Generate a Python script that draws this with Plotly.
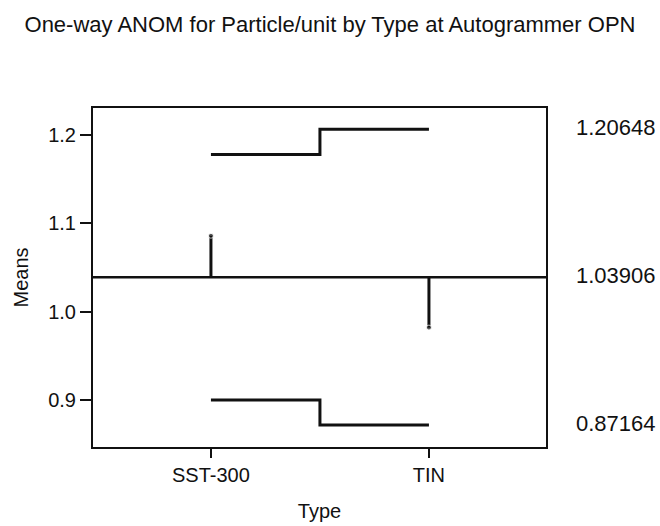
import plotly.graph_objects as go

# ANOM data: group means and decision limits per type
types = ["SST-300", "TIN"]
means = [1.086, 0.982]
udl = [1.178, 1.20648]
ldl = [0.900, 0.87164]
center = 1.03906
limit_labels = ["1.20648", "1.03906", "0.87164"]
limit_values = [1.20648, 1.03906, 0.87164]

xpos = list(range(len(types)))
ink = "#111111"
font = "Liberation Sans, Arial, sans-serif"

fig = go.Figure()

# upper and lower decision limits as steps between groups
for lim in (udl, ldl):
    fig.add_trace(go.Scatter(
        x=xpos, y=lim, mode="lines", line=dict(color=ink, width=3, shape="hvh"),
        hoverinfo="skip", showlegend=False))

# vertical needles from the center line to each group mean
for xi, m in zip(xpos, means):
    fig.add_trace(go.Scatter(
        x=[xi, xi], y=[center, m], mode="lines+markers",
        line=dict(color=ink, width=3),
        marker=dict(size=[0, 5], color=ink),
        hoverinfo="skip", showlegend=False))

# center line across the full plot width
fig.add_shape(type="line", xref="paper", x0=0, x1=1, yref="y", y0=center, y1=center,
              line=dict(color=ink, width=2.5))

# limit values printed to the right of the frame
for txt, v in zip(limit_labels, limit_values):
    fig.add_annotation(text=txt, xref="paper", x=1.062, xanchor="left",
                       yref="y", y=v, yanchor="middle", yshift=2, showarrow=False,
                       font=dict(family=font, size=22, color=ink))

fig.update_layout(
    width=660, height=526,
    margin=dict(l=93, r=114, t=108, b=79, autoexpand=False),
    paper_bgcolor="white", plot_bgcolor="white",
    title=dict(text="One-way ANOM for Particle/unit by Type at Autogrammer OPN",
               x=0.5, xanchor="center", y=1 - 24 / 526, yanchor="middle",
               font=dict(family=font, size=22, color=ink)),
    font=dict(family=font, size=20, color=ink),
)

fig.update_xaxes(
    range=[-0.541, 1.537], tickvals=xpos, ticktext=types,
    showline=True, linecolor=ink, linewidth=2, mirror=True,
    ticks="outside", ticklen=9, tickwidth=2, tickcolor=ink,
    showgrid=False, zeroline=False, automargin=False,
    title=dict(text="Type", font=dict(family=font, size=20, color=ink), standoff=19),
    tickfont=dict(family=font, size=20, color=ink))

fig.update_yaxes(
    range=[0.8468, 1.2306], tickvals=[0.9, 1.0, 1.1, 1.2],
    ticktext=["0.9", "1.0", "1.1", "1.2"],
    showline=True, linecolor=ink, linewidth=2, mirror=True,
    ticks="outside", ticklen=11, tickwidth=2, tickcolor=ink,
    showgrid=False, zeroline=False, automargin=False,
    title=dict(text="Means", font=dict(family=font, size=20, color=ink), standoff=14),
    tickfont=dict(family=font, size=20, color=ink))

fig.write_html("out.html")
